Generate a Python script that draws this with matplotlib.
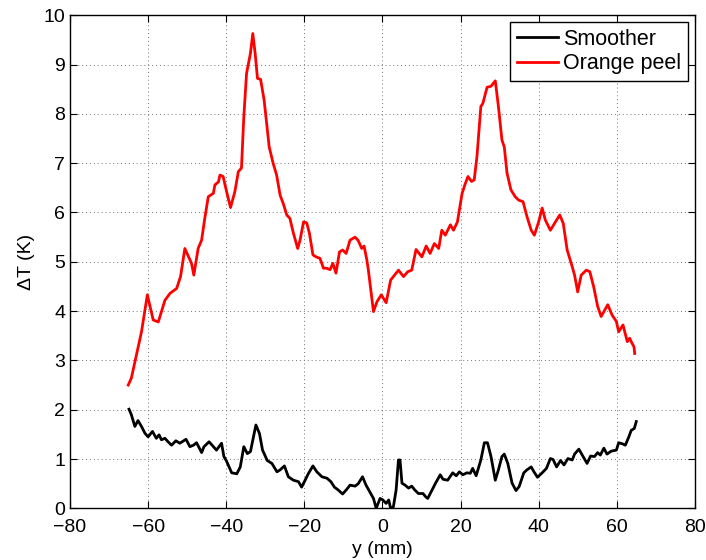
import numpy as np
import matplotlib.pyplot as plt

plt.rcParams['font.family'] = ['Liberation Sans', 'DejaVu Sans']

# temperature rise profiles across the part (y in mm, dT in K)
y_peel = [-65.1, -64.3, -61.7, -60.2, -58.7, -57.4, -55.7, -54.4, -52.7, -51.7,
          -50.6, -48.9, -48.3, -47.2, -46.3, -45.5, -44.6, -43.3, -42.9, -42.0,
          -41.6, -40.8, -39.9, -38.9, -37.8, -36.9, -36.1, -35.5, -34.8, -33.8,
          -33.2, -32.6, -32.0, -31.2, -30.3, -29.0, -28.0, -27.1, -26.2, -25.4,
          -24.5, -23.7, -22.8, -21.7, -21.1, -20.2, -19.4, -18.7, -17.8, -17.0,
          -16.0, -15.1, -14.3, -13.4, -12.7, -11.9, -11.0, -10.2, -9.3, -8.3,
          -7.0, -6.2, -5.3, -4.7, -4.0, -3.6, -2.3, -1.4, -0.3, 0.95,
          2.1, 4.1, 5.4, 6.5, 7.5, 8.6, 10.1, 11.2, 12.2, 13.3,
          14.4, 15.2, 16.1, 17.4, 18.2, 19.2, 20.4, 21.1, 21.9, 22.8,
          23.5, 24.2, 25.2, 25.7, 26.8, 27.8, 28.9, 29.7, 30.6, 31.2,
          31.9, 32.9, 34.0, 34.9, 36.0, 37.0, 38.1, 38.9, 40.0, 40.9,
          41.7, 43.0, 44.3, 45.4, 46.3, 47.3, 48.6, 49.2, 50.0, 50.9,
          52.2, 53.1, 54.1, 55.1, 56.0, 56.7, 57.7, 58.8, 59.9, 60.5,
          61.6, 62.7, 63.3, 63.9, 64.4, 64.6]
dT_peel = [2.50, 2.64, 3.58, 4.33, 3.82, 3.78, 4.22, 4.36, 4.46, 4.70,
           5.27, 4.97, 4.73, 5.27, 5.44, 5.88, 6.32, 6.39, 6.56, 6.62,
           6.76, 6.73, 6.42, 6.10, 6.42, 6.83, 6.90, 7.94, 8.82, 9.23,
           9.63, 9.23, 8.72, 8.70, 8.28, 7.33, 7.00, 6.76, 6.35, 6.18,
           5.95, 5.88, 5.58, 5.27, 5.44, 5.81, 5.79, 5.58, 5.14, 5.10,
           5.07, 4.87, 4.87, 4.84, 4.97, 4.77, 5.20, 5.24, 5.17, 5.44,
           5.50, 5.43, 5.27, 5.32, 5.04, 4.83, 3.99, 4.19, 4.33, 4.17,
           4.63, 4.83, 4.70, 4.80, 4.83, 5.25, 5.10, 5.32, 5.17, 5.37,
           5.27, 5.64, 5.54, 5.75, 5.64, 5.81, 6.39, 6.56, 6.73, 6.63,
           6.66, 7.13, 8.15, 8.21, 8.54, 8.56, 8.67, 8.15, 7.47, 7.33,
           6.80, 6.46, 6.32, 6.25, 6.22, 5.92, 5.64, 5.54, 5.81, 6.09,
           5.85, 5.64, 5.81, 5.95, 5.78, 5.24, 4.90, 4.73, 4.39, 4.73,
           4.83, 4.80, 4.49, 4.10, 3.89, 3.99, 4.13, 3.92, 3.79, 3.58,
           3.72, 3.38, 3.45, 3.35, 3.28, 3.14]

y_smooth = [-64.9, -64.3, -63.4, -62.6, -61.7, -60.8, -60.0, -58.9, -57.9, -57.2,
            -56.6, -55.7, -54.9, -54.0, -52.9, -51.9, -50.3, -49.3, -48.4, -47.6,
            -46.3, -45.7, -44.4, -43.3, -42.5, -41.2, -40.6, -40.0, -38.6, -37.3,
            -36.4, -35.5, -34.6, -33.8, -32.4, -31.5, -30.7, -29.5, -28.3, -27.0,
            -26.2, -25.1, -24.1, -22.8, -21.5, -20.7, -19.8, -19.0, -17.8, -16.8,
            -15.5, -14.2, -13.2, -12.3, -11.3, -10.2, -9.2, -8.3, -7.0, -6.2,
            -5.1, -4.2, -3.0, -2.3, -1.6, -0.6, 0.1, 0.95, 1.6, 2.1,
            2.8, 3.5, 4.1, 4.5, 5.0, 5.8, 6.7, 7.5, 8.2, 9.2,
            10.4, 11.0, 11.6, 12.5, 13.6, 14.8, 15.5, 16.7, 18.0, 18.9,
            19.7, 20.6, 21.6, 22.5, 23.1, 24.0, 25.2, 26.1, 26.9, 27.8,
            28.9, 29.7, 30.6, 31.2, 32.1, 33.2, 34.2, 35.0, 36.2, 37.0,
            38.1, 38.8, 39.7, 40.9, 42.0, 43.0, 43.7, 44.6, 45.6, 46.5,
            47.5, 48.6, 49.2, 50.3, 51.4, 52.4, 53.3, 54.3, 55.1, 55.8,
            56.7, 57.5, 58.6, 59.9, 60.5, 61.4, 62.2, 63.1, 63.7, 64.5,
            65.0]
dT_smooth = [2.01, 1.90, 1.66, 1.78, 1.66, 1.52, 1.45, 1.56, 1.42, 1.49,
             1.39, 1.42, 1.35, 1.28, 1.37, 1.32, 1.40, 1.25, 1.28, 1.33,
             1.13, 1.25, 1.35, 1.25, 1.18, 1.32, 1.05, 0.97, 0.72, 0.70,
             0.84, 1.25, 1.11, 1.15, 1.69, 1.52, 1.18, 0.97, 0.91, 0.74,
             0.78, 0.86, 0.64, 0.57, 0.54, 0.43, 0.57, 0.70, 0.86, 0.74,
             0.64, 0.61, 0.54, 0.43, 0.37, 0.29, 0.38, 0.47, 0.45, 0.50,
             0.64, 0.47, 0.30, 0.20, 0.00, 0.20, 0.17, 0.10, 0.17, 0.00,
             0.03, 0.37, 0.98, 0.98, 0.51, 0.47, 0.41, 0.45, 0.38, 0.30,
             0.30, 0.24, 0.20, 0.34, 0.51, 0.68, 0.59, 0.57, 0.72, 0.66,
             0.74, 0.68, 0.72, 0.71, 0.81, 0.66, 0.98, 1.33, 1.33, 1.05,
             0.57, 0.78, 1.05, 1.10, 0.91, 0.51, 0.36, 0.44, 0.72, 0.78,
             0.84, 0.74, 0.63, 0.72, 0.81, 1.01, 0.99, 0.84, 0.97, 0.88,
             1.01, 0.98, 1.10, 1.20, 1.05, 0.91, 1.06, 1.05, 1.13, 1.08,
             1.22, 1.10, 1.16, 1.18, 1.33, 1.31, 1.28, 1.45, 1.58, 1.62,
             1.76]

fig = plt.figure(figsize=(7.06, 5.6), dpi=100)
ax = fig.add_axes([0.0992, 0.0923, 0.885, 0.8804])

ax.plot(y_smooth, dT_smooth, color='k', lw=2, label='Smoother')
ax.plot(y_peel, dT_peel, color='r', lw=2, label='Orange peel')

ax.set_xlim(-80, 80)
ax.set_ylim(0, 10)
ax.set_xticks(np.arange(-80, 81, 20))
ax.set_yticks(np.arange(0, 11, 1))
ax.tick_params(direction='in', top=True, right=True, labelsize=14, length=5, width=0.8)
ax.tick_params(axis='x', pad=8)
ax.grid(True, color='0.45', linestyle=(0, (1, 3)), linewidth=0.7)
for s in ax.spines.values():
    s.set_linewidth(1.0)

ax.set_xlabel('y (mm)', fontsize=14, labelpad=3)
ax.set_ylabel('ΔT (K)', fontsize=14, labelpad=6)

leg = ax.legend(loc='upper right', fontsize=15.5, fancybox=False, framealpha=1,
                edgecolor='k', borderaxespad=0.33, handlelength=1.9,
                handletextpad=0.25, borderpad=0.3, labelspacing=0.15)
leg.get_frame().set_linewidth(1.0)

fig.savefig('out.png', dpi=100)
